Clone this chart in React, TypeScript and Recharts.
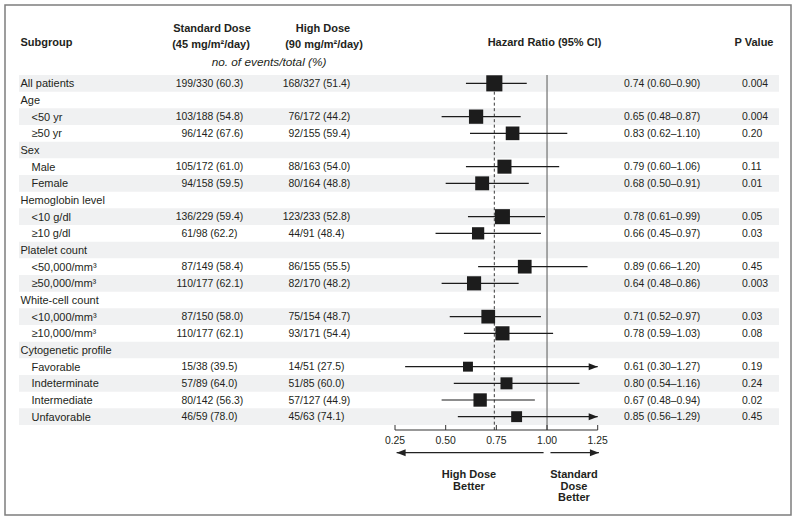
import React from 'react';
import { ScatterChart, Scatter, XAxis, YAxis, ErrorBar, ReferenceArea, ReferenceLine } from 'recharts';

// ---------- data ----------
const subgroups = [
  'All patients', 'Age', '<50 yr', '≥50 yr', 'Sex', 'Male', 'Female',
  'Hemoglobin level', '<10 g/dl', '≥10 g/dl', 'Platelet count', '<50,000/mm³', '≥50,000/mm³',
  'White-cell count', '<10,000/mm³', '≥10,000/mm³', 'Cytogenetic profile',
  'Favorable', 'Indeterminate', 'Intermediate', 'Unfavorable',
];
const indentLevels = [0, 0, 1, 1, 0, 1, 1, 0, 1, 1, 0, 1, 1, 0, 1, 1, 0, 1, 1, 1, 1];
const standardDose = [
  '199/330 (60.3)', '', '103/188 (54.8)', '96/142 (67.6)', '', '105/172 (61.0)', '94/158 (59.5)',
  '', '136/229 (59.4)', '61/98 (62.2)', '', '87/149 (58.4)', '110/177 (62.1)',
  '', '87/150 (58.0)', '110/177 (62.1)', '', '15/38 (39.5)', '57/89 (64.0)', '80/142 (56.3)', '46/59 (78.0)',
];
const highDose = [
  '168/327 (51.4)', '', '76/172 (44.2)', '92/155 (59.4)', '', '88/163 (54.0)', '80/164 (48.8)',
  '', '123/233 (52.8)', '44/91 (48.4)', '', '86/155 (55.5)', '82/170 (48.2)',
  '', '75/154 (48.7)', '93/171 (54.4)', '', '14/51 (27.5)', '51/85 (60.0)', '57/127 (44.9)', '45/63 (74.1)',
];
const hazardRatios = [0.74, null, 0.65, 0.83, null, 0.79, 0.68, null, 0.78, 0.66, null, 0.89, 0.64, null, 0.71, 0.78, null, 0.61, 0.80, 0.67, 0.85];
const ciLower = [0.60, null, 0.48, 0.62, null, 0.60, 0.50, null, 0.61, 0.45, null, 0.66, 0.48, null, 0.52, 0.59, null, 0.30, 0.54, 0.48, 0.56];
const ciUpper = [0.90, null, 0.87, 1.10, null, 1.06, 0.91, null, 0.99, 0.97, null, 1.20, 0.86, null, 0.97, 1.03, null, 1.27, 1.16, 0.94, 1.29];
const pValues = ['0.004', '', '0.004', '0.20', '', '0.11', '0.01', '', '0.05', '0.03', '', '0.45', '0.003', '', '0.03', '0.08', '', '0.19', '0.24', '0.02', '0.45'];
const axisTicks = [0.25, 0.5, 0.75, 1.0, 1.25];

// ---------- layout / style ----------
const FONT = '"Liberation Sans", Arial, sans-serif';
const INK = '#231f20';
const AXIS_LO = 0.25;
const AXIS_HI = 1.25;
const PLOT_L = 19;
const PLOT_R = 779;
const AXIS_PX_LO = 395;
const AXIS_PX_HI = 597.7;
const PX_PER_UNIT = (AXIS_PX_HI - AXIS_PX_LO) / (AXIS_HI - AXIS_LO);
const X_MIN = AXIS_LO - (AXIS_PX_LO - PLOT_L) / PX_PER_UNIT;
const X_MAX = AXIS_HI + (PLOT_R - AXIS_PX_HI) / PX_PER_UNIT;
const Y_MIN = -0.5;
const Y_MAX = 20.8;
const PLOT_T = 75;
const PLOT_B = 430;
const X_AXIS_H = 30;
const Y_AXIS_W = 1;
const ARROW_ROW = 22.16;
const STD_SLASH_X = 193;
const HIGH_SLASH_X = 300;
const NUM_FS = 10.4;

const totalN = (s: string) => {
  const m = s.match(/\/(\d+)/);
  return m ? Number(m[1]) : 0;
};

const rows = subgroups.map((label, i) => ({
  i,
  label,
  hr: hazardRatios[i],
  lo: ciLower[i],
  hi: ciUpper[i],
  n: totalN(standardDose[i]) + totalN(highDose[i]),
}));

const pointData = rows
  .filter((r) => r.hr != null)
  .map((r) => ({
    x: r.hr as number,
    y: r.i,
    err: [(r.hr as number) - (r.lo as number), Math.min(r.hi as number, AXIS_HI) - (r.hr as number)],
    box: 3.1 * Math.log(r.n) - 4,
  }));

const arrowData = rows
  .filter((r) => r.hi != null && (r.hi as number) > AXIS_HI)
  .map((r) => ({ x: AXIS_HI, y: r.i }));

const rowIndices = rows.map((r) => r.i);
const shadedRows = rows.filter((r) => r.i % 2 === 0).map((r) => r.i);
const overallHR = hazardRatios[0] as number;

const fmtHR = (i: number) =>
  hazardRatios[i] == null
    ? ''
    : `${(hazardRatios[i] as number).toFixed(2)} (${(ciLower[i] as number).toFixed(2)}–${(ciUpper[i] as number).toFixed(2)})`;

// ---------- renderers ----------
const SlashText = ({ text, slashX, y }: { text: string; slashX: number; y: number }) => {
  if (!text) return null;
  const k = text.indexOf('/');
  return (
    <g>
      <text x={slashX} y={y} textAnchor="end" dominantBaseline="central" fontSize={NUM_FS}>
        {text.slice(0, k)}
      </text>
      <text x={slashX} y={y} textAnchor="start" dominantBaseline="central" fontSize={NUM_FS}>
        {text.slice(k)}
      </text>
    </g>
  );
};

const RowTick = (props: any) => {
  const { y, payload } = props;
  const i = payload.value as number;
  return (
    <g fill={INK} fontFamily={FONT}>
      <text x={indentLevels[i] ? 31.5 : 20.5} y={y} dominantBaseline="central" fontSize={11}>
        {subgroups[i]}
      </text>
      <SlashText text={standardDose[i]} slashX={STD_SLASH_X} y={y} />
      <SlashText text={highDose[i]} slashX={HIGH_SLASH_X} y={y} />
      <text x={624} y={y} dominantBaseline="central" fontSize={NUM_FS}>
        {fmtHR(i)}
      </text>
      <text x={742} y={y} dominantBaseline="central" fontSize={NUM_FS}>
        {pValues[i]}
      </text>
    </g>
  );
};

const AxisTick = (props: any) => {
  const { x, y, payload } = props;
  return (
    <g>
      <line x1={x} x2={x} y1={y - 5} y2={y} stroke="#333" strokeWidth={1} />
      <text x={x} y={y + 10} textAnchor="middle" dominantBaseline="central" fontSize={NUM_FS} fill={INK} fontFamily={FONT}>
        {Number(payload.value).toFixed(2)}
      </text>
    </g>
  );
};

const Square = (props: any) => {
  const { cx, cy, payload } = props;
  const s = payload.box;
  return <rect x={cx - s / 2} y={cy - s / 2} width={s} height={s} fill="#1c1c1c" />;
};

const ArrowHead = (props: any) => {
  const { cx, cy } = props;
  return <polygon points={`${cx},${cy} ${cx - 9},${cy - 3.5} ${cx - 9},${cy + 3.5}`} fill="#1c1c1c" />;
};

const arrowShape = (headAt: 'start' | 'end') => (p: any) => {
  const { x1, y1, x2, y2 } = p;
  const tipX = headAt === 'start' ? Math.min(x1, x2) : Math.max(x1, x2);
  const dir = headAt === 'start' ? 1 : -1;
  return (
    <g>
      <line x1={x1} y1={y1} x2={x2} y2={y2} stroke="#222" strokeWidth={1.1} />
      <polygon
        points={`${tipX},${y1} ${tipX + dir * 9},${y1 - 3.5} ${tipX + dir * 9},${y1 + 3.5}`}
        fill="#222"
      />
    </g>
  );
};

export default function App() {
  const bold = { fontWeight: 700, fontSize: 11 } as const;
  return (
    <div style={{ position: 'absolute', left: 0, top: 0, width: 800, height: 521, background: '#fff', fontFamily: FONT }}>
      <svg width={800} height={521} style={{ position: 'absolute', left: 0, top: 0 }} fontFamily={FONT}>
        <rect x={5} y={5} width={786} height={510} fill="none" stroke="#7d7d7d" strokeWidth={1.5} />
        <g fill={INK} dominantBaseline="central">
          <text x={20.5} y={41.5} {...bold}>Subgroup</text>
          <text x={212} y={27.5} textAnchor="middle" {...bold}>Standard Dose</text>
          <text x={211} y={43.5} textAnchor="middle" {...bold}>(45 mg/m²/day)</text>
          <text x={323} y={27.5} textAnchor="middle" {...bold}>High Dose</text>
          <text x={324} y={43.5} textAnchor="middle" {...bold}>(90 mg/m²/day)</text>
          <text x={269} y={62} textAnchor="middle" fontSize={11.8} fontStyle="italic">no. of events/total (%)</text>
          <text x={544.5} y={41.5} textAnchor="middle" {...bold}>Hazard Ratio (95% CI)</text>
          <text x={754} y={41.5} textAnchor="middle" {...bold}>P Value</text>
          <text x={469} y={474} textAnchor="middle" {...bold}>High Dose</text>
          <text x={469} y={485.5} textAnchor="middle" {...bold}>Better</text>
          <text x={574} y={474} textAnchor="middle" {...bold}>Standard</text>
          <text x={574} y={485.5} textAnchor="middle" {...bold}>Dose</text>
          <text x={574} y={497} textAnchor="middle" {...bold}>Better</text>
        </g>
      </svg>
      <div style={{ position: 'absolute', left: 0, top: 0 }}>
        <ScatterChart
          width={800}
          height={521}
          margin={{ top: PLOT_T, right: 800 - PLOT_R, bottom: 521 - PLOT_B - X_AXIS_H, left: PLOT_L - Y_AXIS_W }}
        >
          <XAxis
            type="number"
            dataKey="x"
            domain={[X_MIN, X_MAX]}
            allowDataOverflow
            ticks={axisTicks}
            interval={0}
            axisLine={false}
            tickLine={false}
            tickSize={0}
            tickMargin={0}
            height={X_AXIS_H}
            tick={AxisTick}
          />
          <YAxis
            type="number"
            dataKey="y"
            domain={[Y_MIN, Y_MAX]}
            allowDataOverflow
            reversed
            ticks={rowIndices}
            interval={0}
            axisLine={false}
            tickLine={false}
            width={Y_AXIS_W}
            tick={RowTick}
          />
          {shadedRows.map((i) => (
            <ReferenceArea key={`sh${i}`} y1={i - 0.5} y2={i + 0.5} fill="#f0f1f2" fillOpacity={1} stroke="none" ifOverflow="visible" />
          ))}
          <ReferenceLine x={1} stroke="#7a7a7a" strokeWidth={1.3} />
          <ReferenceLine
            segment={[{ x: overallHR, y: 0.5 }, { x: overallHR, y: Y_MAX }]}
            stroke="#3a3a3a"
            strokeWidth={1}
            strokeDasharray="3 2.5"
            ifOverflow="visible"
          />
          <ReferenceLine
            segment={[{ x: AXIS_LO, y: Y_MAX }, { x: AXIS_HI, y: Y_MAX }]}
            stroke="#333"
            strokeWidth={1}
            ifOverflow="visible"
          />
          <ReferenceLine
            segment={[{ x: AXIS_LO + 0.008, y: ARROW_ROW }, { x: 0.983, y: ARROW_ROW }]}
            ifOverflow="visible"
            shape={arrowShape('start')}
          />
          <ReferenceLine
            segment={[{ x: 1.017, y: ARROW_ROW }, { x: AXIS_HI + 0.006, y: ARROW_ROW }]}
            ifOverflow="visible"
            shape={arrowShape('end')}
          />
          <Scatter data={pointData} shape={Square} isAnimationActive={false}>
            <ErrorBar dataKey="err" direction="x" width={0} stroke="#1c1c1c" strokeWidth={1.2} isAnimationActive={false} />
          </Scatter>
          <Scatter data={arrowData} shape={ArrowHead} isAnimationActive={false} />
        </ScatterChart>
      </div>
    </div>
  );
}
